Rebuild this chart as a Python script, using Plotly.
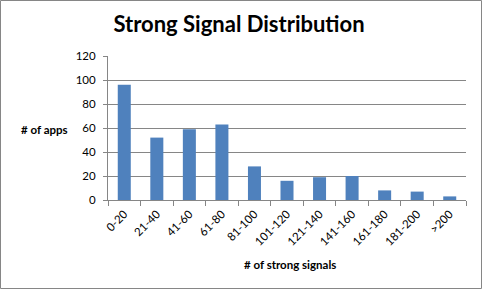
import plotly.graph_objects as go

categories = ["0-20", "21-40", "41-60", "61-80", "81-100", "101-120", "121-140",
              "141-160", "161-180", "181-200", ">200"]
apps = [96, 52, 59, 63, 28, 16, 19, 20, 8, 7, 3]
y_ticks = [0, 20, 40, 60, 80, 100, 120]

W, H = 482, 289
ml, mr, mt, mb = 108, 16, 56, 89
pw, ph = W - ml - mr, H - mt - mb

font = "Lato, 'Open Sans', sans-serif"

fig = go.Figure(go.Bar(x=categories, y=apps, marker=dict(color="#4F81BD", line=dict(width=0)),
                       width=0.4))

fig.update_layout(
    width=W, height=H,
    margin=dict(l=ml, r=mr, t=mt, b=mb),
    paper_bgcolor="white", plot_bgcolor="white",
    showlegend=False,
    font=dict(family=font, size=11, color="#000"),
    title=dict(text="<b>Strong Signal Distribution</b>", x=239 / W, xanchor="center",
               y=1 - 24 / H, yanchor="middle", font=dict(size=22, family=font, color="#000")),
    xaxis=dict(showline=True, linecolor="#868686", linewidth=1, ticks="outside",
               tickson="boundaries", ticklen=5, tickcolor="#868686", tickangle=-45,
               tickfont=dict(size=11.5), showgrid=False, range=[-0.5, 10.5],
               ticklabelstandoff=2),
    yaxis=dict(range=[0, 120], tickvals=y_ticks, showline=True, linecolor="#868686",
               linewidth=1, ticks="outside", ticklen=4, tickcolor="#868686",
               showgrid=True, gridcolor="#868686", gridwidth=1, zeroline=False,
               tickfont=dict(size=11.5), ticklabelstandoff=5),
    annotations=[
        dict(text="<b># of apps</b>", xref="paper", yref="paper",
             x=(44 - ml) / pw, y=(H - mb - 129) / ph, xanchor="center", yanchor="middle",
             showarrow=False, font=dict(size=11.5, family=font)),
        dict(text="<b># of strong signals</b>", xref="paper", yref="paper",
             x=(290 - ml) / pw, y=(H - mb - 264) / ph, xanchor="center", yanchor="middle",
             showarrow=False, font=dict(size=11.5, family=font)),
    ],
    shapes=[dict(type="rect", xref="paper", yref="paper",
                 x0=(0.5 - ml) / pw, x1=(W - 0.5 - ml) / pw,
                 y0=(H - mb - (H - 0.5)) / ph, y1=(H - mb - 0.5) / ph,
                 line=dict(color="#868686", width=1), layer="below")],
)

fig.write_html("out.html")
